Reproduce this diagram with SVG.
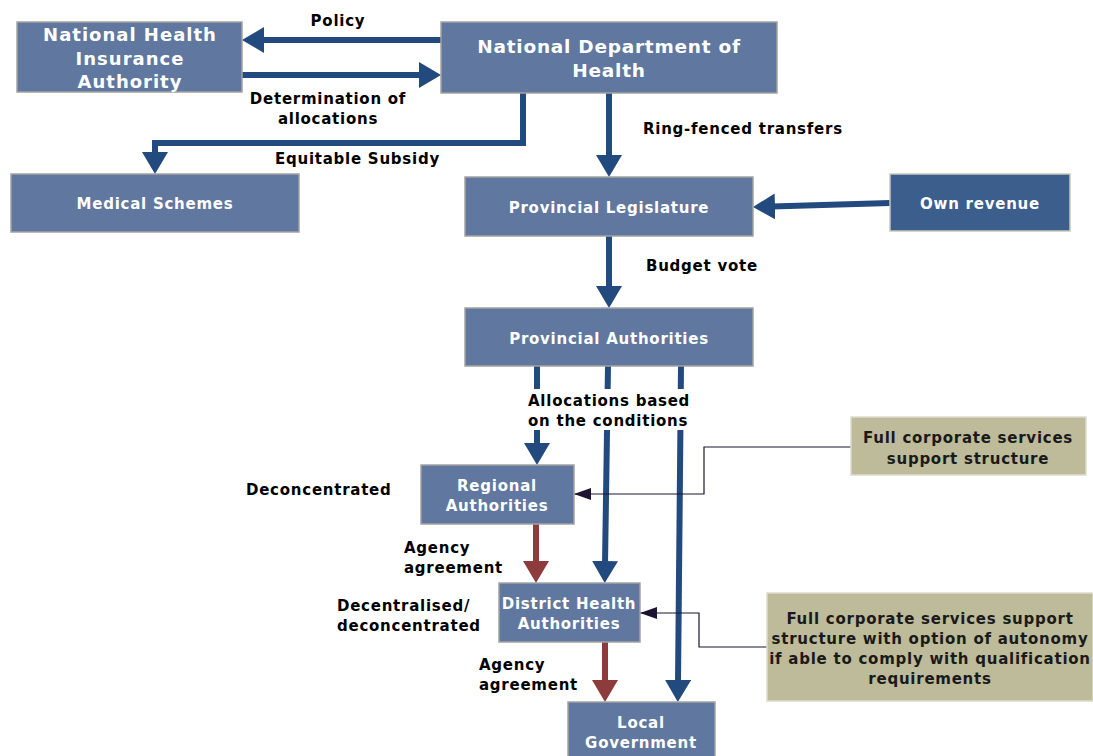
<svg xmlns="http://www.w3.org/2000/svg" width="1093" height="756" viewBox="0 0 1093 756">
<style>
.node{fill:#6078a0;stroke:#a3a3a3;stroke-width:1.5}
.dark{fill:#3b5e8c;stroke:#c8c8b8;stroke-width:1.5}
.note{fill:#bdbb99;stroke:#dcdcd0;stroke-width:1.5}
.nt{font-family:"DejaVu Sans",Verdana,sans-serif;font-weight:bold;fill:#ffffff;text-anchor:middle;letter-spacing:0.75px}
.big{letter-spacing:1px}
.lt{font-family:"DejaVu Sans",Verdana,sans-serif;font-weight:bold;fill:#000000;font-size:15px;letter-spacing:0.75px}
.gt{font-family:"DejaVu Sans",Verdana,sans-serif;font-weight:bold;fill:#1a1a1a;text-anchor:middle;font-size:15px;letter-spacing:0.75px}
.blue{fill:none;stroke:#224a7e;stroke-width:6}
.red{fill:none;stroke:#8d3b3b;stroke-width:6}
.thin{fill:none;stroke:#1c1430;stroke-width:1.2}
</style>
<defs>
<marker id="hb" viewBox="0 0 22 26" refX="3" refY="13" markerWidth="22" markerHeight="26" markerUnits="userSpaceOnUse" orient="auto">
<path d="M0,0 L22,13 L0,26 z" fill="#224a7e"/>
</marker>
<marker id="hr" viewBox="0 0 22 26" refX="3" refY="13" markerWidth="22" markerHeight="26" markerUnits="userSpaceOnUse" orient="auto">
<path d="M0,0 L22,13 L0,26 z" fill="#8d3b3b"/>
</marker>
<marker id="hk" viewBox="0 0 17 12" refX="17" refY="6" markerWidth="17" markerHeight="12" markerUnits="userSpaceOnUse" orient="auto">
<path d="M0,0 L17,6 L0,12 z" fill="#1c1430"/>
</marker>
</defs>
<rect width="1093" height="756" fill="#ffffff"/>

<g id="connectors">
<path class="blue" d="M441,40 H261" marker-end="url(#hb)"/>
<path class="blue" d="M242,75 H422" marker-end="url(#hb)"/>
<path class="blue" d="M523,93 V143 H155 V155" marker-end="url(#hb)"/>
<path class="blue" d="M609,93 V158" marker-end="url(#hb)"/>
<path class="blue" d="M890,203 L772,206.5" marker-end="url(#hb)"/>
<path class="blue" d="M609,236 V289" marker-end="url(#hb)"/>
<path class="blue" d="M537,366 V446" marker-end="url(#hb)"/>
<path class="blue" d="M608,366 L605,564" marker-end="url(#hb)"/>
<path class="blue" d="M681,366 L678,683" marker-end="url(#hb)"/>
<path class="red" d="M536,524 V564" marker-end="url(#hr)"/>
<path class="red" d="M605,642 V683" marker-end="url(#hr)"/>
<path class="thin" d="M851,447 H704 V494 H574" marker-end="url(#hk)"/>
<path class="thin" d="M767,647 H699 V613 H640" marker-end="url(#hk)"/>
</g>

<g id="labels">
<text class="lt" x="338" y="26" text-anchor="middle">Policy</text>
<text class="lt" x="328" y="104" text-anchor="middle">Determination of</text>
<text class="lt" x="328" y="124" text-anchor="middle">allocations</text>
<text class="lt" x="275" y="164">Equitable Subsidy</text>
<text class="lt" x="643" y="134">Ring-fenced transfers</text>
<text class="lt" x="646" y="271">Budget vote</text>
<rect x="524" y="389" width="168" height="41" fill="#ffffff"/>
<text class="lt" x="528" y="406">Allocations based</text>
<text class="lt" x="528" y="426">on the conditions</text>
<text class="lt" x="246" y="495">Deconcentrated</text>
<text class="lt" x="404" y="553">Agency</text>
<text class="lt" x="404" y="573">agreement</text>
<text class="lt" x="337" y="611">Decentralised/</text>
<text class="lt" x="337" y="631">deconcentrated</text>
<text class="lt" x="479" y="670">Agency</text>
<text class="lt" x="479" y="690">agreement</text>
</g>

<g id="nhia">
<rect class="node" x="17" y="22" width="225" height="70"/>
<text class="nt big" font-size="18" x="130" y="41">National Health</text>
<text class="nt big" font-size="18" x="130" y="65">Insurance</text>
<text class="nt big" font-size="18" x="130" y="88">Authority</text>
</g>
<g id="ndoh">
<rect class="node" x="441" y="22" width="336" height="71"/>
<text class="nt" font-size="18.5" x="609" y="53">National Department of</text>
<text class="nt" font-size="18.5" x="609" y="77">Health</text>
</g>
<g id="medical-schemes">
<rect class="node" x="11" y="174" width="288" height="58"/>
<text class="nt" font-size="15" x="155" y="209">Medical Schemes</text>
</g>
<g id="provincial-legislature">
<rect class="node" x="465" y="177" width="288" height="59"/>
<text class="nt" font-size="15" x="609" y="213">Provincial Legislature</text>
</g>
<g id="own-revenue">
<rect class="dark" x="890" y="174" width="180" height="57"/>
<text class="nt" font-size="15" x="980" y="209">Own revenue</text>
</g>
<g id="provincial-authorities">
<rect class="node" x="465" y="308" width="288" height="58"/>
<text class="nt" font-size="15" x="609" y="344">Provincial Authorities</text>
</g>
<g id="regional-authorities">
<rect class="node" x="421" y="465" width="153" height="59"/>
<text class="nt" font-size="15" x="497" y="491">Regional</text>
<text class="nt" font-size="15" x="497" y="511">Authorities</text>
</g>
<g id="district-health-authorities">
<rect class="node" x="499" y="583" width="141" height="59"/>
<text class="nt" font-size="15" x="569" y="609">District Health</text>
<text class="nt" font-size="15" x="569" y="629">Authorities</text>
</g>
<g id="local-government">
<rect class="node" x="568" y="702" width="147" height="60"/>
<text class="nt" font-size="15" x="641" y="728">Local</text>
<text class="nt" font-size="15" x="641" y="748">Government</text>
</g>
<g id="note-regional">
<rect class="note" x="851" y="417" width="235" height="58"/>
<text class="gt" x="968" y="443">Full corporate services</text>
<text class="gt" x="968" y="464">support structure</text>
</g>
<g id="note-district">
<rect class="note" x="767" y="593" width="326" height="108"/>
<text class="gt" x="930" y="624">Full corporate services support</text>
<text class="gt" x="930" y="644">structure with option of autonomy</text>
<text class="gt" x="930" y="664">if able to comply with qualification</text>
<text class="gt" x="930" y="684">requirements</text>
</g>
</svg>
